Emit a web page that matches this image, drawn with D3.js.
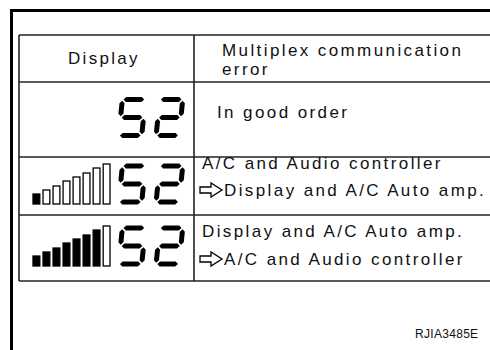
<!DOCTYPE html>
<html><head><meta charset="utf-8">
<script src="https://cdn.jsdelivr.net/npm/d3@7"></script>
<style>html,body{margin:0;padding:0;background:#fff;}svg{display:block;}</style>
</head><body>
<script>
// ---- data ----
const headerDisplay = "Display";
const headerError = ["Multiplex communication", "error"];
const displayCodes = ["52", "52", "52"];
const filledBars = [null, 1, 7];           // null = no level bar shown
const barLevels = [10, 14, 18, 23, 27, 31, 36, 40]; // bar heights
const errorTexts = [
  [{arrow:false, t:"In good order"}],
  [{arrow:false, t:"A/C and Audio controller"}, {arrow:true, t:"Display and A/C Auto amp."}],
  [{arrow:false, t:"Display and A/C Auto amp."}, {arrow:true, t:"A/C and Audio controller"}]
];
const figureId = "RJIA3485E";

// ---- layout ----
const W = 490, H = 350;
const svg = d3.select("body").append("svg").attr("width", W).attr("height", H);
const ink = "#111";
const font = "'Liberation Sans', Arial, Helvetica, sans-serif";

// outer frame
svg.append("path").attr("d", "M11.5,352V10.5H492").attr("fill","none").attr("stroke","#000").attr("stroke-width",3);

const tableX0 = 19, colX = 194, tableX1 = 492;
const rowEdges = [35, 82, 157, 215, 281];
const yRow = d3.scaleOrdinal().domain([0,1,2]).range([[82,157],[157,215],[215,281]]);

const g = svg.append("g");
rowEdges.forEach(y => g.append("line").attr("x1",tableX0).attr("x2",tableX1).attr("y1",y).attr("y2",y)
  .attr("stroke","#222").attr("stroke-width",1.6));
[tableX0, colX].forEach(x => g.append("line").attr("x1",x).attr("x2",x).attr("y1",rowEdges[0]).attr("y2",rowEdges[4])
  .attr("stroke","#222").attr("stroke-width",1.6));

function txt(x, y, s, size, ls) {
  return svg.append("text").attr("x",x).attr("y",y).text(s)
    .attr("font-family",font).attr("font-size",size).attr("letter-spacing",ls).attr("fill",ink);
}
txt(68, 64, headerDisplay, 17, 2.3);
txt(222, 56, headerError[0], 17, 2.4);
txt(222, 75, headerError[1], 17, 2.4);

// ---- seven-segment digits ----
const SEG = {"0":"abcdef","1":"bc","2":"abged","3":"abgcd","4":"fgbc","5":"afgcd","6":"afgedc","7":"abc","8":"abcdefg","9":"abcdfg"};
const dW = 28, dH = 41, t = 5, gap = 1.2, skew = 0.1;
function segPolys(ch) {
  const x0 = t/2, x1 = dW - t/2, yT = t/2, yM = dH/2, yB = dH - t/2, h = t/2;
  const hor = (yc) => [[x0+gap,yc],[x0+gap+h,yc-h],[x1-gap-h,yc-h],[x1-gap,yc],[x1-gap-h,yc+h],[x0+gap+h,yc+h]];
  const ver = (xc, ya, yb) => [[xc,ya+gap],[xc+h,ya+gap+h],[xc+h,yb-gap-h],[xc,yb-gap],[xc-h,yb-gap-h],[xc-h,ya+gap+h]];
  const S = {a:hor(yT), g:hor(yM), d:hor(yB), f:ver(x0,yT,yM), b:ver(x1,yT,yM), e:ver(x0,yM,yB), c:ver(x1,yM,yB)};
  return SEG[ch].split("").map(k => S[k].map(([x,y]) => [x + (dH - y)*skew, y]));
}
const digitX = d3.scaleBand().domain([0,1]).range([116, 184]).paddingInner(0.18);

displayCodes.forEach((code, r) => {
  const [ya, yb] = yRow(r);
  const top = (ya + yb)/2 - dH/2 - 2;
  code.split("").forEach((ch, i) => {
    const dg = svg.append("g").attr("transform", `translate(${digitX(i)},${top})`);
    segPolys(ch).forEach(p => dg.append("polygon").attr("points", p.map(q=>q.join(",")).join(" ")).attr("fill","#000"));
  });
  // level bars
  if (filledBars[r] !== null) {
    const bottom = top + dH - 0.5;
    const bx = d3.scaleBand().domain(d3.range(barLevels.length)).range([33, 110]).paddingInner(0.32);
    const bh = d3.scaleLinear().domain([0, 40]).range([0, 40]);
    svg.append("g").selectAll("rect").data(barLevels).join("rect")
      .attr("x", (d,i) => bx(i)).attr("width", bx.bandwidth())
      .attr("y", d => bottom - bh(d)).attr("height", d => bh(d))
      .attr("fill", (d,i) => i < filledBars[r] ? "#000" : "#fff")
      .attr("stroke","#000").attr("stroke-width",1.3);
  }
});

// ---- error texts ----
const arrowPath = (x, y) => { // y = vertical centre
  const hw = 7, sh = 3, x1 = x + 11, x2 = x + 22;
  return `M${x},${y-sh}H${x1}V${y-hw}L${x2},${y}L${x1},${y+hw}V${y+sh}H${x}Z`;
};
const lineBaselines = [[118], [169, 196], [237, 265]];
errorTexts.forEach((lines, r) => {
  lines.forEach((ln, j) => {
    const by = lineBaselines[r][j];
    if (r === 0) { txt(217, by, ln.t, 17, 2.4); return; }
    if (ln.arrow) {
      svg.append("path").attr("d", arrowPath(200, by - 6)).attr("fill","#fff").attr("stroke","#000").attr("stroke-width",1.3);
      txt(224, by, ln.t, 17, 2.4);
    } else {
      txt(202, by, ln.t, 17, 2.4);
    }
  });
});

txt(415, 338, figureId, 12, 0.3);
</script>
</body></html>
